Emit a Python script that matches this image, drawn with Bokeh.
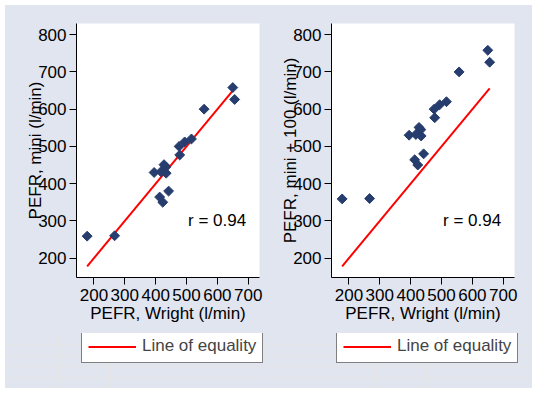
import numpy as np
from bokeh.plotting import figure
from bokeh.layouts import row, column
from bokeh.models import Range1d, Label, Legend, LegendItem, FixedTicker
from bokeh.embed import file_html
from bokeh.resources import INLINE

# Data: PEFR measured with Wright and mini Wright meters
wright = [494, 395, 516, 434, 476, 557, 413, 442, 650, 433, 417, 656, 267, 478, 178, 423, 427]
mini = [512, 430, 520, 428, 500, 600, 364, 380, 658, 445, 432, 626, 260, 477, 259, 350, 451]
mini_plus_100 = [612, 530, 620, 528, 600, 700, 464, 480, 758, 545, 532, 726, 360, 577, 359, 450, 551]
equality_x = [178, 656]
equality_y = [178, 656]
x_ticks = [200, 300, 400, 500, 600, 700]
y_ticks = [200, 300, 400, 500, 600, 700, 800]
r_text = "r = 0.94"
x_title = "PEFR, Wright (l/min)"
y_titles = ["PEFR, mini (l/min)", "PEFR, mini + 100 (l/min)"]
legend_label = "Line of equality"

BG = "#e0e5f0"
NAVY = "#263d6e"
FONT = "Liberation Sans"
FS = "17px"


def panel(yvals, ytitle, width, left, right):
    p = figure(width=width, height=328, output_backend="svg", toolbar_location=None,
               x_range=Range1d(143.5, 736.5), y_range=Range1d(148, 830),
               min_border_left=left, min_border_right=right,
               min_border_top=18, min_border_bottom=56)
    p.background_fill_color = "white"
    p.border_fill_color = BG
    p.outline_line_color = None
    p.grid.visible = False

    p.line(equality_x, equality_y, line_color="red", line_width=2)
    p.scatter(wright, yvals, marker="square", angle=np.pi / 4, size=7,
              fill_color=NAVY, line_color=NAVY)

    p.xaxis.ticker = FixedTicker(ticks=x_ticks, minor_ticks=[])
    p.yaxis.ticker = FixedTicker(ticks=y_ticks, minor_ticks=[])
    p.xaxis.axis_label = x_title
    p.yaxis.axis_label = ytitle
    for ax in (p.xaxis, p.yaxis):
        ax.major_tick_out = 7
        ax.major_tick_in = 0
        ax.minor_tick_out = 0
        ax.minor_tick_in = 0
        ax.axis_line_color = "black"
        ax.major_tick_line_color = "black"
        ax.major_label_text_font = FONT
        ax.major_label_text_font_size = FS
        ax.major_label_text_color = "black"
        ax.axis_label_text_font = FONT
        ax.axis_label_text_font_size = FS
        ax.axis_label_text_font_style = "normal"
        ax.axis_label_text_color = "black"
    p.xaxis.major_label_standoff = 4
    p.xaxis.axis_label_standoff = 0
    p.yaxis.major_label_standoff = 3
    p.yaxis.axis_label_standoff = -10

    p.add_layout(Label(x=505, y=300, text=r_text, text_baseline="middle",
                       text_font=FONT, text_font_size=FS, text_color="black"))
    return p


def legend_panel(width, x_left):
    q = figure(width=width, height=55, output_backend="svg", toolbar_location=None,
               x_range=Range1d(0, 1), y_range=Range1d(0, 1),
               x_axis_location=None, y_axis_location=None,
               min_border=0, min_border_left=0, min_border_right=0,
               min_border_top=0, min_border_bottom=0)
    q.background_fill_color = BG
    q.border_fill_color = BG
    q.outline_line_color = None
    eq = q.line(equality_x, equality_y, line_color="red", line_width=2)
    leg = Legend(items=[LegendItem(label=legend_label, renderers=[eq])],
                 location=(x_left, 25), orientation="horizontal")
    leg.border_line_color = "black"
    leg.border_line_width = 1
    leg.background_fill_color = "white"
    leg.background_fill_alpha = 1
    leg.label_text_font = FONT
    leg.label_text_font_size = FS
    leg.glyph_width = 48
    leg.glyph_height = 19
    leg.label_height = 19
    leg.label_standoff = 6
    leg.padding = 6
    leg.spacing = 0
    leg.margin = 0
    q.add_layout(leg)
    return q


p1 = panel(mini, y_titles[0], 263, 71, 9)
p2 = panel(mini_plus_100, y_titles[1], 264, 63, 18)
l1 = legend_panel(263, 76)
l2 = legend_panel(264, 68)
layout = column(row(p1, p2, spacing=0, styles={"background-color": BG}),
                row(l1, l2, spacing=0, styles={"background-color": BG}),
                spacing=0, margin=(5, 0, 0, 5), styles={"background-color": BG})

open("out.html", "w").write(file_html(layout, INLINE))
